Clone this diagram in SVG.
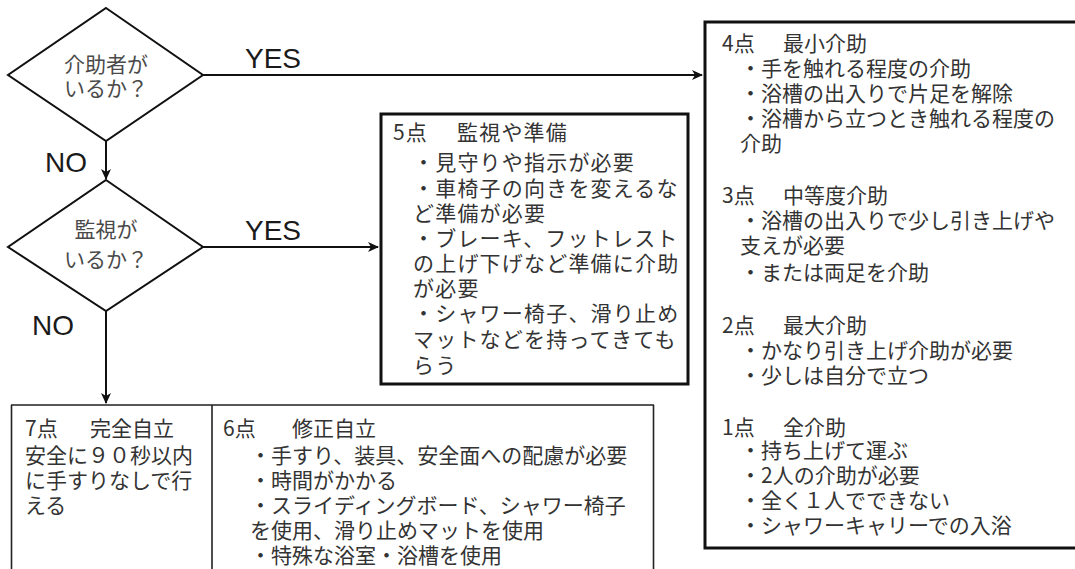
<svg xmlns="http://www.w3.org/2000/svg" width="1075" height="569" viewBox="0 0 1075 569">
<style>
.bg{fill:#fff}
.dia{fill:#fff;stroke:#111;stroke-width:2}
.box{fill:#fff;stroke:#111;stroke-width:3}
.thin{fill:none;stroke:#222;stroke-width:1.6}
.conn{fill:none;stroke:#111;stroke-width:2}
.yn{font-family:"Liberation Sans",Arial,sans-serif;font-size:28px;fill:#1a1a1a}
.dt{font-family:"Noto Sans CJK JP","Noto Sans",sans-serif;font-size:21px;letter-spacing:0px;fill:#4a4a4a;text-anchor:middle}
.t{font-family:"Noto Sans CJK JP","Noto Sans",sans-serif;font-size:21px;letter-spacing:0px;fill:#333}
.t5{font-family:"Noto Sans CJK JP","Noto Sans",sans-serif;font-size:21px;letter-spacing:1.2px;fill:#333}
</style>
<defs>
<marker id="arr" markerWidth="12" markerHeight="10" refX="10" refY="5" orient="auto" markerUnits="userSpaceOnUse">
<path d="M0,0 L11,5 L0,10 L3,5 z" fill="#111"/>
</marker>
</defs>
<rect class="bg" x="0" y="0" width="1075" height="569"/>

<g id="connectors">
<path class="conn" d="M203,75 H702" marker-end="url(#arr)"/>
<path class="conn" d="M106,141 V179" marker-end="url(#arr)"/>
<path class="conn" d="M203,247 H378" marker-end="url(#arr)"/>
<path class="conn" d="M106,311 V403" marker-end="url(#arr)"/>
<text class="yn" x="245" y="68">YES</text>
<text class="yn" x="45" y="172">NO</text>
<text class="yn" x="245" y="240">YES</text>
<text class="yn" x="32" y="335">NO</text>
</g>

<g id="q1">
<polygon class="dia" points="106,8 203,75 106,141 8,75"/>
<text class="dt" x="106" y="72">介助者が</text>
<text class="dt" x="106" y="96">いるか？</text>
</g>

<g id="q2">
<polygon class="dia" points="106,180 203,247 106,311 8,247"/>
<text class="dt" x="106" y="236.5">監視が</text>
<text class="dt" x="106" y="266.5">いるか？</text>
</g>

<g id="score5">
<rect class="box" x="381" y="114" width="307" height="270"/>
<text class="t5" y="140"><tspan x="393">5点</tspan><tspan x="457">監視や準備</tspan></text>
<text class="t5" x="413" y="170">・見守りや指示が必要</text>
<text class="t5" x="413" y="195.5">・車椅子の向きを変えるな</text>
<text class="t5" x="413" y="221">ど準備が必要</text>
<text class="t5" x="413" y="246">・ブレーキ、フットレスト</text>
<text class="t5" x="413" y="271">の上げ下げなど準備に介助</text>
<text class="t5" x="413" y="296">が必要</text>
<text class="t5" x="413" y="321">・シャワー椅子、滑り止め</text>
<text class="t5" x="413" y="347">マットなどを持ってきても</text>
<text class="t5" x="413" y="373">らう</text>
</g>

<g id="score4to1">
<rect class="box" x="705" y="22" width="380" height="526"/>
<text class="t" y="51"><tspan x="722">4点</tspan><tspan x="783">最小介助</tspan></text>
<text class="t" x="740" y="76">・手を触れる程度の介助</text>
<text class="t" x="740" y="101">・浴槽の出入りで片足を解除</text>
<text class="t" x="740" y="126">・浴槽から立つとき触れる程度の</text>
<text class="t" x="740" y="151">介助</text>
<text class="t" y="203"><tspan x="722">3点</tspan><tspan x="783">中等度介助</tspan></text>
<text class="t" x="740" y="228">・浴槽の出入りで少し引き上げや</text>
<text class="t" x="740" y="253">支えが必要</text>
<text class="t" x="740" y="280">・または両足を介助</text>
<text class="t" y="333"><tspan x="722">2点</tspan><tspan x="783">最大介助</tspan></text>
<text class="t" x="740" y="358">・かなり引き上げ介助が必要</text>
<text class="t" x="740" y="383">・少しは自分で立つ</text>
<text class="t" y="435"><tspan x="722">1点</tspan><tspan x="783">全介助</tspan></text>
<text class="t" x="740" y="458">・持ち上げて運ぶ</text>
<text class="t" x="740" y="483">・2人の介助が必要</text>
<text class="t" x="740" y="508">・全く１人でできない</text>
<text class="t" x="740" y="533">・シャワーキャリーでの入浴</text>
</g>

<g id="score7">
<path class="thin" d="M11,405 H212 M11.5,405 V569 M212,405 V569"/>
<text class="t" y="436"><tspan x="25">7点</tspan><tspan x="90">完全自立</tspan></text>
<text class="t" x="25" y="463">安全に９０秒以内</text>
<text class="t" x="25" y="488">に手すりなしで行</text>
<text class="t" x="25" y="513">える</text>
</g>

<g id="score6">
<path class="thin" d="M212,405 H654 M653.5,405 V569"/>
<text class="t" y="436"><tspan x="223">6点</tspan><tspan x="292">修正自立</tspan></text>
<text class="t" x="250" y="463">・手すり、装具、安全面への配慮が必要</text>
<text class="t" x="250" y="488">・時間がかかる</text>
<text class="t" x="250" y="513">・スライディングボード、シャワー椅子</text>
<text class="t" x="250" y="538">を使用、滑り止めマットを使用</text>
<text class="t" x="250" y="563">・特殊な浴室・浴槽を使用</text>
</g>
</svg>
